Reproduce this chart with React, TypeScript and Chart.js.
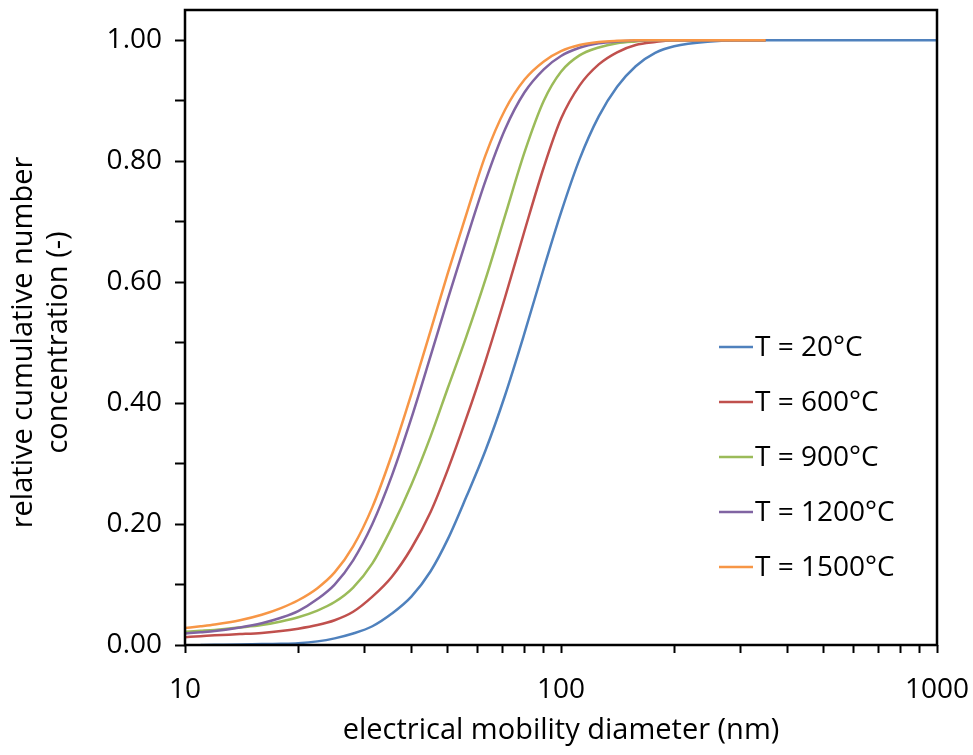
import React, { useEffect, useRef } from 'react';
import { Chart, registerables } from 'chart.js';

Chart.register(...registerables);

// electrical mobility diameter (nm)
const diameters = [10, 11, 12, 14, 16, 18, 20, 22.5, 25, 28, 31.5, 35.5, 40, 45, 50, 56, 63, 71, 80, 90, 100, 112, 126, 141, 158, 178, 200, 250, 300, 350, 500, 700, 1000];

const seriesLabels = ['T = 20°C', 'T = 600°C', 'T = 900°C', 'T = 1200°C', 'T = 1500°C'];
const seriesColors = ['#4F81BD', '#C0504D', '#9BBB59', '#8064A2', '#F79646'];

const t20 = [null, 0.0, 0.0003, 0.0008, 0.0015, 0.002, 0.003, 0.006, 0.011, 0.019, 0.031, 0.052, 0.08, 0.122, 0.175, 0.245, 0.322, 0.413, 0.516, 0.623, 0.715, 0.803, 0.874, 0.923, 0.957, 0.979, 0.99, 0.998, 1.0, 1.0, 1.0, 1.0, 1.0];
const t600 = [0.013, 0.0145, 0.016, 0.018, 0.02, 0.023, 0.027, 0.033, 0.041, 0.055, 0.08, 0.113, 0.16, 0.22, 0.29, 0.375, 0.47, 0.575, 0.685, 0.79, 0.87, 0.925, 0.96, 0.98, 0.992, 0.997, 1.0, 1.0, 1.0, 1.0, null, null, null];
const t900 = [0.022, 0.0235, 0.025, 0.029, 0.033, 0.039, 0.046, 0.057, 0.071, 0.095, 0.135, 0.195, 0.265, 0.345, 0.425, 0.51, 0.605, 0.71, 0.815, 0.90, 0.948, 0.975, 0.988, 0.995, 0.998, 1.0, 1.0, 1.0, 1.0, 1.0, null, null, null];
const t1200 = [0.019, 0.021, 0.023, 0.029, 0.036, 0.045, 0.056, 0.076, 0.10, 0.14, 0.20, 0.28, 0.375, 0.478, 0.572, 0.67, 0.768, 0.853, 0.914, 0.952, 0.974, 0.9875, 0.995, 0.998, 0.9995, 1.0, 1.0, 1.0, 1.0, 1.0, null, null, null];
const t1500 = [0.028, 0.031, 0.034, 0.041, 0.05, 0.061, 0.074, 0.094, 0.12, 0.163, 0.228, 0.315, 0.415, 0.52, 0.615, 0.712, 0.81, 0.885, 0.935, 0.965, 0.982, 0.992, 0.997, 0.999, 1.0, 1.0, 1.0, 1.0, 1.0, 1.0, null, null, null];

const seriesValues = [t20, t600, t900, t1200, t1500];

const yTickValues = [0, 0.1, 0.2, 0.3, 0.4, 0.5, 0.6, 0.7, 0.8, 0.9, 1.0];
const xTickValues = [10, 20, 30, 40, 50, 60, 70, 80, 90, 100, 200, 300, 400, 500, 600, 700, 800, 900, 1000];
const xLabelValues = [10, 100, 1000];
const yTitleLines = ['relative cumulative number', 'concentration (-)'];

const FONT = "'Open Sans', sans-serif";

export default function App() {
  const canvasRef = useRef<HTMLCanvasElement | null>(null);

  useEffect(() => {
    const canvas = canvasRef.current;
    if (!canvas) return;

    const boxPlugin = {
      id: 'boxAndLegend',
      afterDraw(chart: any) {
        const { ctx, chartArea } = chart;
        ctx.save();
        ctx.strokeStyle = '#000';
        ctx.lineWidth = 2.5;
        ctx.strokeRect(chartArea.left, chartArea.top, chartArea.right - chartArea.left, chartArea.bottom - chartArea.top);

        // y-axis title (two lines, rotated)
        ctx.fillStyle = '#000';
        ctx.font = `29px ${FONT}`;
        ctx.textAlign = 'center';
        ctx.textBaseline = 'middle';
        const titleCenterY = (chartArea.top + chartArea.bottom) / 2 + 15;
        yTitleLines.forEach((line, i) => {
          ctx.save();
          ctx.translate(23.5 + i * 34.8, titleCenterY);
          ctx.rotate(-Math.PI / 2);
          ctx.fillText(line, 0, 0);
          ctx.restore();
        });

        // legend
        const lx = chartArea.right - 218;
        const ly = chartArea.top + 337;
        ctx.font = `28px ${FONT}`;
        ctx.textBaseline = 'middle';
        ctx.textAlign = 'left';
        seriesLabels.forEach((label, i) => {
          const y = ly + i * 55;
          ctx.strokeStyle = seriesColors[i];
          ctx.lineWidth = 2.5;
          ctx.beginPath();
          ctx.moveTo(lx, y);
          ctx.lineTo(lx + 34, y);
          ctx.stroke();
          ctx.fillStyle = '#000';
          ctx.fillText(label, lx + 36, y + 1);
        });
        ctx.restore();
      },
    };

    const chart = new Chart(canvas, {
      type: 'line',
      data: {
        datasets: seriesValues.map((vals, i) => ({
          label: seriesLabels[i],
          data: diameters.map((d, j) => ({ x: d, y: vals[j] })),
          borderColor: seriesColors[i],
          backgroundColor: seriesColors[i],
          borderWidth: 2.5,
          pointRadius: 0,
          cubicInterpolationMode: 'monotone',
          spanGaps: false,
          order: seriesValues.length - 1 - i,
        })),
      },
      options: {
        animation: false,
        responsive: true,
        maintainAspectRatio: false,
        layout: { padding: { left: 0, right: 36, top: 10, bottom: 0 } },
        plugins: {
          legend: { display: false },
          tooltip: { enabled: false },
        },
        scales: {
          x: {
            type: 'logarithmic',
            min: 10,
            max: 1000,
            afterBuildTicks: (scale: any) => {
              scale.ticks = xTickValues.map((v) => ({ value: v }));
            },
            afterFit: (scale: any) => {
              scale.height = 110;
              scale.paddingLeft = 0;
              scale.paddingRight = 0;
            },
            ticks: {
              autoSkip: false,
              maxRotation: 0,
              padding: 20,
              color: '#000',
              font: { family: FONT, size: 28 },
              callback: (value: any) => (xLabelValues.includes(Number(value)) ? String(value) : ''),
            },
            grid: {
              display: true,
              drawOnChartArea: false,
              drawTicks: true,
              tickLength: 8,
              tickWidth: 2,
              tickColor: '#000',
            },
            border: { display: false },
            title: {
              display: true,
              text: 'electrical mobility diameter (nm)',
              color: '#000',
              font: { family: FONT, size: 29 },
              padding: { top: 0, bottom: 7 },
            },
          },
          y: {
            type: 'linear',
            min: 0,
            max: 1.05,
            afterBuildTicks: (scale: any) => {
              scale.ticks = yTickValues.map((v) => ({ value: v }));
            },
            afterFit: (scale: any) => {
              scale.width = 185;
              scale.paddingTop = 0;
              scale.paddingBottom = 0;
            },
            ticks: {
              autoSkip: false,
              padding: 13,
              color: '#000',
              font: { family: FONT, size: 28 },
              callback: (value: any) => (Math.round(Number(value) * 10) % 2 === 0 ? Number(value).toFixed(2) : ''),
            },
            grid: {
              display: true,
              drawOnChartArea: false,
              drawTicks: true,
              tickLength: 10,
              tickWidth: 2,
              tickColor: '#000',
            },
            border: { display: false },
            title: { display: false },
          },
        },
      },
      plugins: [boxPlugin],
    } as any);

    return () => {
      chart.destroy();
    };
  }, []);

  return (
    <div style={{ position: 'fixed', left: 0, top: 0, width: 973, height: 755, background: '#fff' }}>
      <canvas ref={canvasRef} />
    </div>
  );
}
